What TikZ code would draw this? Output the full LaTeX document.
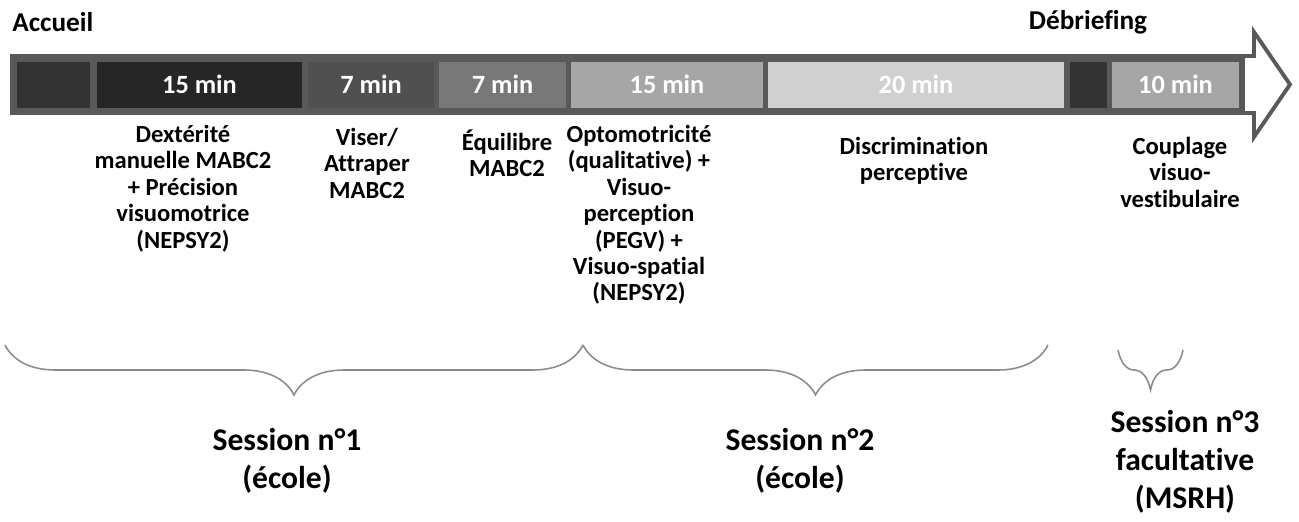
\documentclass[tikz,border=0pt]{standalone}
\usepackage{fontspec}
\setmainfont{Carlito}[Ligatures={NoCommon}]
\usetikzlibrary{decorations.pathreplacing,positioning}

\definecolor{barframe}{HTML}{595959}
\definecolor{shadeA}{HTML}{333333}
\definecolor{shadeB}{HTML}{262626}
\definecolor{shadeC}{HTML}{505050}
\definecolor{shadeD}{HTML}{787878}
\definecolor{shadeE}{HTML}{A6A6A6}
\definecolor{shadeF}{HTML}{D0D0D0}
\definecolor{bracegray}{HTML}{8C8C8C}

\begin{document}
\begin{tikzpicture}[x=0.02cm, y=-0.02cm,
    cell/.style={inner sep=0pt, text=white, font=\fontsize{15}{17}\selectfont\bfseries},
    stage/.style={inner sep=0pt, font=\fontsize{15.5}{18}\selectfont\bfseries},
    task/.style={inner sep=0pt, anchor=north, align=center, font=\fontsize{14}{15}\selectfont\bfseries},
    session/.style={inner sep=0pt, anchor=north, align=center, font=\fontsize{18}{21.6}\selectfont\bfseries},
    span/.style={decorate, decoration={brace, mirror, amplitude=#1}, draw=bracegray, line width=0.9pt},
]
    \useasboundingbox (0,0) rectangle (1299,521);

    % Arrow outline
    \draw[barframe, line width=2.2pt, fill=white, line join=miter]
        (12,56) -- (1254,56) -- (1254,32) -- (1290,84.5) -- (1254,137) -- (1254,113) -- (12,113) -- cycle;
    \fill[barframe] (12,56) rectangle (1245,113);

    % Time cells
    \foreach \a/\b/\shade/\lbl [count=\k] in {
        17/90/shadeA/{},
        97/302/shadeB/15 min,
        308/434/shadeC/7 min,
        439/566/shadeD/7 min,
        571/763/shadeE/15 min,
        768/1064/shadeF/20 min,
        1070/1107/shadeA/{},
        1112/1239/shadeE/10 min} {
        \fill[\shade] (\a,62) rectangle (\b,108);
        \node[cell] (cell\k) at ({(\a+\b)/2},84) {\lbl};
    }

    % Stages above the bar
    \node[stage, anchor=west] (accueil) at (12,22) {Accueil};
    \node[stage] (debrief) at (1088,22) {Débriefing};

    % Tasks below the bar
    \node[task] (dext) at (183,125) {Dextérité\\manuelle MABC2\\+ Précision\\visuomotrice\\(NEPSY2)};
    \node[task] (viser) at (367,128) {Viser/\\Attraper\\MABC2};
    \node[task] (equil) at (507,129) {Équilibre\\MABC2};
    \node[task] (opto) at (639,125) {Optomotricité\\(qualitative) +\\Visuo-\\perception\\(PEGV) +\\Visuo-spatial\\(NEPSY2)};
    \node[task] (discr) at (914,137) {Discrimination\\perceptive};
    \node[task] (coupl) at (1180,137) {Couplage\\visuo-\\vestibulaire};

    % Braces
    \coordinate (s1a) at (5,345);
    \coordinate (s1b) at (583,345);
    \coordinate (s2a) at (583,345);
    \coordinate (s2b) at (1048,345);
    \coordinate (s3a) at (1118,350);
    \coordinate (s3b) at (1183,350);
    \draw[span=1cm] (s1a) -- (s1b);
    \draw[span=1cm] (s2a) -- (s2b);
    \draw[span=0.8cm] (s3a) -- (s3b);

    % Sessions
    \node[session] (sess1) at (287,428) {Session n°1\\(école)};
    \node[session] (sess2) at (800,428) {Session n°2\\(école)};
    \node[session] (sess3) at (1185,410) {Session n°3\\facultative\\(MSRH)};
\end{tikzpicture}
\end{document}
